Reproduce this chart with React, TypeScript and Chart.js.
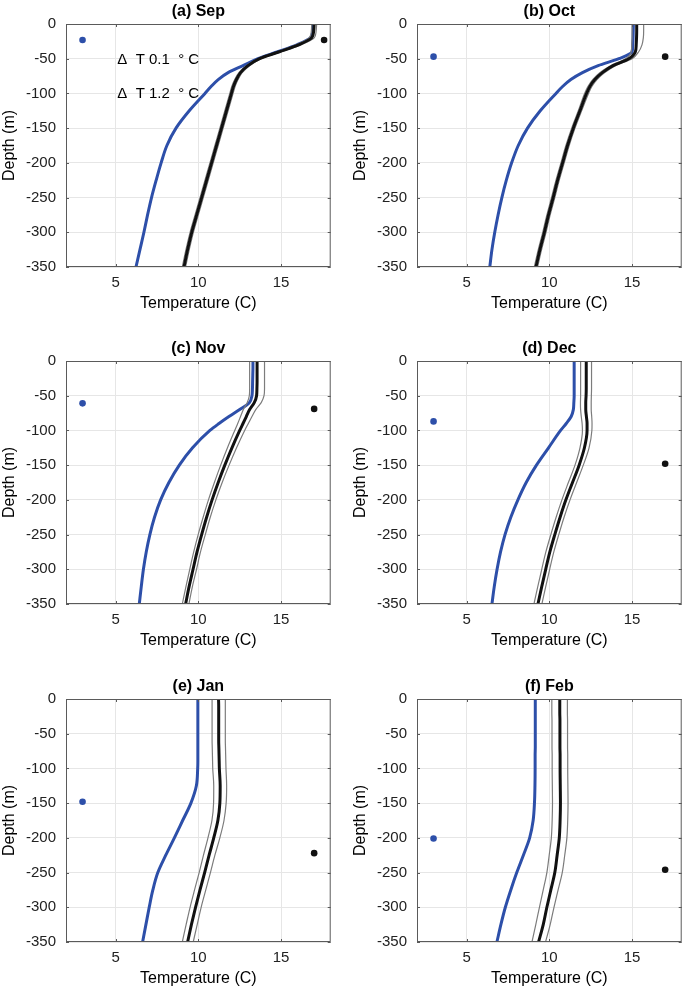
import React, { useEffect, useRef } from "react";
import { Chart, registerables } from "chart.js";

Chart.register(...registerables);

// ---------------- data ----------------
const DEPTH = [0, -10, -20, -30, -40, -50, -60, -70, -80, -90, -100, -125, -150, -175, -200, -225, -250, -275, -300, -325, -350];

const SEP_BLUE = [16.95, 16.92, 16.78, 15.95, 14.8, 13.6, 12.7, 11.8, 11.2, 10.77, 10.4, 9.45, 8.65, 8.1, 7.75, 7.45, 7.17, 6.93, 6.71, 6.47, 6.23];
const SEP_BLACK = [17.0, 16.97, 16.85, 16.05, 14.9, 13.7, 13.0, 12.55, 12.3, 12.12, 12.0, 11.7, 11.4, 11.1, 10.8, 10.5, 10.2, 9.9, 9.6, 9.35, 9.13];
const SEP_LO = [16.85, 16.83, 16.7, 15.9, 14.78, 13.6, 12.9, 12.45, 12.2, 12.02, 11.9, 11.6, 11.3, 11.0, 10.7, 10.4, 10.1, 9.8, 9.5, 9.25, 9.03];
const SEP_HI = [17.15, 17.12, 17.0, 16.2, 15.02, 13.8, 13.1, 12.65, 12.4, 12.22, 12.1, 11.8, 11.5, 11.2, 10.9, 10.6, 10.3, 10.0, 9.7, 9.45, 9.23];

const OCT_BLUE = [15.08, 15.07, 15.06, 15.04, 15.0, 14.2, 12.95, 12.0, 11.3, 10.8, 10.4, 9.45, 8.68, 8.12, 7.72, 7.4, 7.13, 6.9, 6.7, 6.53, 6.4];
const OCT_BLACK = [15.28, 15.28, 15.27, 15.25, 15.2, 14.8, 13.85, 13.2, 12.75, 12.45, 12.25, 11.85, 11.45, 11.1, 10.8, 10.5, 10.23, 9.95, 9.7, 9.43, 9.19];
const OCT_LO = [15.0, 15.0, 15.0, 14.98, 14.95, 14.6, 13.7, 13.05, 12.62, 12.33, 12.13, 11.75, 11.35, 11.0, 10.7, 10.4, 10.13, 9.85, 9.6, 9.33, 9.09];
const OCT_HI = [15.7, 15.7, 15.68, 15.6, 15.4, 15.0, 14.0, 13.35, 12.88, 12.57, 12.37, 11.95, 11.55, 11.2, 10.9, 10.6, 10.33, 10.05, 9.8, 9.53, 9.29];

const NOV_BLUE = [13.3, 13.3, 13.29, 13.28, 13.27, 13.24, 13.08, 12.5, 11.85, 11.25, 10.7, 9.65, 8.85, 8.22, 7.72, 7.35, 7.07, 6.85, 6.68, 6.55, 6.43];
const NOV_BLACK = [13.55, 13.55, 13.55, 13.55, 13.54, 13.52, 13.38, 13.1, 12.9, 12.7, 12.5, 12.03, 11.6, 11.2, 10.83, 10.5, 10.2, 9.92, 9.68, 9.44, 9.23];
const NOV_LO = [13.1, 13.1, 13.1, 13.1, 13.1, 13.08, 12.95, 12.72, 12.55, 12.38, 12.2, 11.76, 11.35, 10.97, 10.61, 10.29, 9.99, 9.72, 9.48, 9.25, 9.03];
const NOV_HI = [14.0, 14.0, 14.0, 14.0, 14.0, 13.97, 13.8, 13.47, 13.24, 13.02, 12.8, 12.31, 11.86, 11.44, 11.06, 10.72, 10.42, 10.13, 9.89, 9.64, 9.43];

const DEC_BLUE = [11.5, 11.5, 11.5, 11.5, 11.5, 11.5, 11.48, 11.45, 11.32, 11.02, 10.68, 9.95, 9.22, 8.6, 8.1, 7.67, 7.32, 7.05, 6.84, 6.67, 6.53];
const DEC_BLACK = [12.23, 12.23, 12.23, 12.23, 12.23, 12.22, 12.2, 12.2, 12.24, 12.28, 12.28, 12.12, 11.8, 11.4, 11.0, 10.65, 10.33, 10.03, 9.78, 9.54, 9.31];
const DEC_LO = [11.89, 11.89, 11.89, 11.89, 11.89, 11.89, 11.88, 11.89, 11.93, 11.98, 12.0, 11.85, 11.55, 11.15, 10.76, 10.41, 10.09, 9.79, 9.54, 9.3, 9.07];
const DEC_HI = [12.55, 12.55, 12.55, 12.55, 12.55, 12.54, 12.53, 12.53, 12.56, 12.58, 12.57, 12.4, 12.05, 11.65, 11.25, 10.89, 10.57, 10.27, 10.02, 9.78, 9.55];

const JAN_BLUE = [9.97, 9.97, 9.97, 9.97, 9.97, 9.97, 9.97, 9.97, 9.97, 9.97, 9.96, 9.88, 9.55, 9.05, 8.55, 8.03, 7.55, 7.25, 7.03, 6.83, 6.63];
const JAN_BLACK = [11.22, 11.23, 11.23, 11.23, 11.23, 11.23, 11.23, 11.24, 11.25, 11.26, 11.27, 11.32, 11.3, 11.18, 10.93, 10.65, 10.38, 10.1, 9.83, 9.58, 9.35];
const JAN_LO = [10.83, 10.83, 10.83, 10.83, 10.83, 10.83, 10.83, 10.84, 10.85, 10.86, 10.87, 10.93, 10.92, 10.82, 10.58, 10.31, 10.05, 9.77, 9.5, 9.26, 9.03];
const JAN_HI = [11.63, 11.63, 11.63, 11.63, 11.63, 11.63, 11.63, 11.64, 11.65, 11.66, 11.67, 11.71, 11.68, 11.55, 11.3, 11.0, 10.73, 10.45, 10.17, 9.93, 9.69];

const FEB_BLUE = [9.15, 9.15, 9.15, 9.15, 9.15, 9.15, 9.15, 9.15, 9.14, 9.14, 9.14, 9.13, 9.1, 9.02, 8.81, 8.43, 8.03, 7.67, 7.34, 7.07, 6.83];
const FEB_BLACK = [10.63, 10.63, 10.63, 10.64, 10.64, 10.64, 10.64, 10.64, 10.65, 10.65, 10.65, 10.66, 10.67, 10.65, 10.6, 10.47, 10.33, 10.09, 9.85, 9.63, 9.35];
const FEB_LO = [10.15, 10.15, 10.15, 10.16, 10.16, 10.16, 10.16, 10.16, 10.17, 10.17, 10.17, 10.18, 10.19, 10.17, 10.12, 9.99, 9.85, 9.63, 9.4, 9.18, 8.95];
const FEB_HI = [11.09, 11.09, 11.09, 11.1, 11.1, 11.1, 11.1, 11.1, 11.11, 11.11, 11.11, 11.12, 11.13, 11.11, 11.06, 10.93, 10.78, 10.53, 10.28, 10.05, 9.77];

const TITLES = ["(a) Sep", "(b) Oct", "(c) Nov", "(d) Dec", "(e) Jan", "(f) Feb"];
const BLUE = [SEP_BLUE, OCT_BLUE, NOV_BLUE, DEC_BLUE, JAN_BLUE, FEB_BLUE];
const BLACK = [SEP_BLACK, OCT_BLACK, NOV_BLACK, DEC_BLACK, JAN_BLACK, FEB_BLACK];
const LO = [SEP_LO, OCT_LO, NOV_LO, DEC_LO, JAN_LO, FEB_LO];
const HI = [SEP_HI, OCT_HI, NOV_HI, DEC_HI, JAN_HI, FEB_HI];

const BLUE_DOT_T = [3, 3, 3, 3, 3, 3];
const BLUE_DOT_D = [-23, -47, -61, -87, -148, -201];
const BLACK_DOT_T = [17.6, 17, 17, 17, 17, 17];
const BLACK_DOT_D = [-23, -47, -69, -148, -222, -246];

const X_TICKS = [5, 10, 15];
const Y_TICK_STEP = 50;

const ANNOT_TEXT = ["\u0394  T 0.1  \u00B0 C", "\u0394  T 1.2  \u00B0 C"];
const ANNOT_T = [5.1, 5.1];
const ANNOT_D = [-51, -101];
const ANNOT_PANEL = 0;

// ---------------- style ----------------
const FONT = "'Liberation Sans', Arial, Helvetica, sans-serif";
const BLUE_COL = "#2d4fa9";
const BLACK_COL = "#111111";
const GREY_COL = "#7c7c7c";
const GRID_COL = "#e6e6e6";
const FRAME_COL = "#5a5a5a";
const TXT_COL = "#222222";

const CW = 334;
const CH = 313;
const POS = [
  [0, 0],
  [351, 0],
  [0, 337],
  [351, 337],
  [0, 675],
  [351, 675],
];

const framePlugin = {
  id: "frameTicks",
  afterDatasetsDraw(chart: any) {
    const { ctx, chartArea, scales } = chart;
    const { left, top, right, bottom } = chartArea;
    ctx.save();
    ctx.strokeStyle = FRAME_COL;
    ctx.lineWidth = 1;
    ctx.strokeRect(left + 0.5, top + 0.5, right - left - 1, bottom - top - 1);
    const L = 3;
    ctx.beginPath();
    scales.x.ticks.forEach((t: any) => {
      const px = Math.round(scales.x.getPixelForValue(t.value)) + 0.5;
      ctx.moveTo(px, bottom);
      ctx.lineTo(px, bottom - L);
      ctx.moveTo(px, top);
      ctx.lineTo(px, top + L);
    });
    scales.y.ticks.forEach((t: any) => {
      const py = Math.round(scales.y.getPixelForValue(t.value)) + 0.5;
      ctx.moveTo(left, py);
      ctx.lineTo(left + L, py);
      ctx.moveTo(right, py);
      ctx.lineTo(right - L, py);
    });
    ctx.stroke();

    const idx = chart.options.plugins.frameTicks?.panel;
    if (idx === ANNOT_PANEL) {
      ctx.fillStyle = "#000";
      ctx.font = `15px ${FONT}`;
      ctx.textAlign = "left";
      ctx.textBaseline = "middle";
      ANNOT_TEXT.forEach((s, i) => {
        ctx.fillText(s, scales.x.getPixelForValue(ANNOT_T[i]), scales.y.getPixelForValue(ANNOT_D[i]));
      });
    }
    ctx.restore();
  },
};

function lineDs(values: number[], color: string, width: number, order: number) {
  return {
    data: values.map((x, i) => ({ x, y: DEPTH[i] })),
    borderColor: color,
    borderWidth: width,
    order,
    pointRadius: 0,
    tension: 0.4,
    cubicInterpolationMode: "monotone",
    fill: false,
  };
}

function dotDs(t: number, d: number, color: string) {
  return {
    data: [{ x: t, y: d }],
    showLine: false,
    pointRadius: 3.3,
    pointBackgroundColor: color,
    pointBorderWidth: 0,
    borderColor: color,
    order: 3,
  };
}

function Panel({ idx }: { idx: number }) {
  const ref = useRef<HTMLCanvasElement>(null);
  useEffect(() => {
    const canvas = ref.current;
    if (!canvas) return;
    const chart = new Chart(canvas, {
      type: "line",
      data: {
        datasets: [
          lineDs(BLACK[idx], BLACK_COL, 3, 0),
          lineDs(LO[idx], GREY_COL, 1.2, 1),
          lineDs(HI[idx], GREY_COL, 1.2, 1),
          lineDs(BLUE[idx], BLUE_COL, 3, 2),
          dotDs(BLUE_DOT_T[idx], BLUE_DOT_D[idx], BLUE_COL),
          dotDs(BLACK_DOT_T[idx], BLACK_DOT_D[idx], BLACK_COL),
        ] as any,
      },
      options: {
        indexAxis: "y",
        animation: false,
        responsive: false,
        devicePixelRatio: 1,
        events: [],
        elements: {
          point: { hoverRadius: 0 },
        },
        layout: { padding: { left: 0, top: 0, right: 1, bottom: 0 } },
        plugins: {
          legend: { display: false },
          tooltip: { enabled: false },
          title: {
            display: true,
            text: TITLES[idx],
            fullSize: false,
            color: "#000",
            font: { family: FONT, size: 16, weight: "bold" },
            padding: { top: 2.4, bottom: 2.4 },
          },
          frameTicks: { panel: idx },
        } as any,
        scales: {
          x: {
            type: "linear",
            position: "bottom",
            min: 2,
            max: 18,
            afterBuildTicks: (s: any) => {
              s.ticks = X_TICKS.map((v) => ({ value: v }));
            },
            afterFit: (s: any) => {
              s.height = 46;
            },
            grid: { color: GRID_COL, lineWidth: 1, drawTicks: false },
            border: { display: false },
            ticks: {
              font: { family: FONT, size: 15 },
              color: TXT_COL,
              padding: 7,
              maxRotation: 0,
              autoSkip: false,
            },
            title: {
              display: true,
              text: "Temperature (C)",
              color: "#000",
              font: { family: FONT, size: 16 },
              padding: { top: 0, bottom: 0 },
            },
          },
          y: {
            type: "linear",
            position: "left",
            min: -350,
            max: 0,
            afterFit: (s: any) => {
              s.width = 66;
            },
            grid: { color: GRID_COL, lineWidth: 1, drawTicks: false },
            border: { display: false },
            ticks: {
              stepSize: Y_TICK_STEP,
              font: { family: FONT, size: 15 },
              color: TXT_COL,
              padding: 10,
              autoSkip: false,
            },
            title: {
              display: true,
              text: "Depth (m)",
              color: "#000",
              font: { family: FONT, size: 16 },
              padding: { top: 0, bottom: 0 },
            },
          },
        } as any,
      } as any,
      plugins: [framePlugin as any],
    });
    return () => chart.destroy();
  }, [idx]);
  const [l, t] = POS[idx];
  return (
    <canvas
      ref={ref}
      width={CW}
      height={CH}
      style={{ position: "absolute", left: l, top: t, width: CW, height: CH }}
    />
  );
}

export default function App() {
  return (
    <div
      style={{
        position: "absolute",
        left: 0,
        top: 0,
        width: 685,
        height: 989,
        background: "#fff",
        overflow: "hidden",
      }}
    >
      {TITLES.map((_, i) => (
        <Panel key={i} idx={i} />
      ))}
    </div>
  );
}
